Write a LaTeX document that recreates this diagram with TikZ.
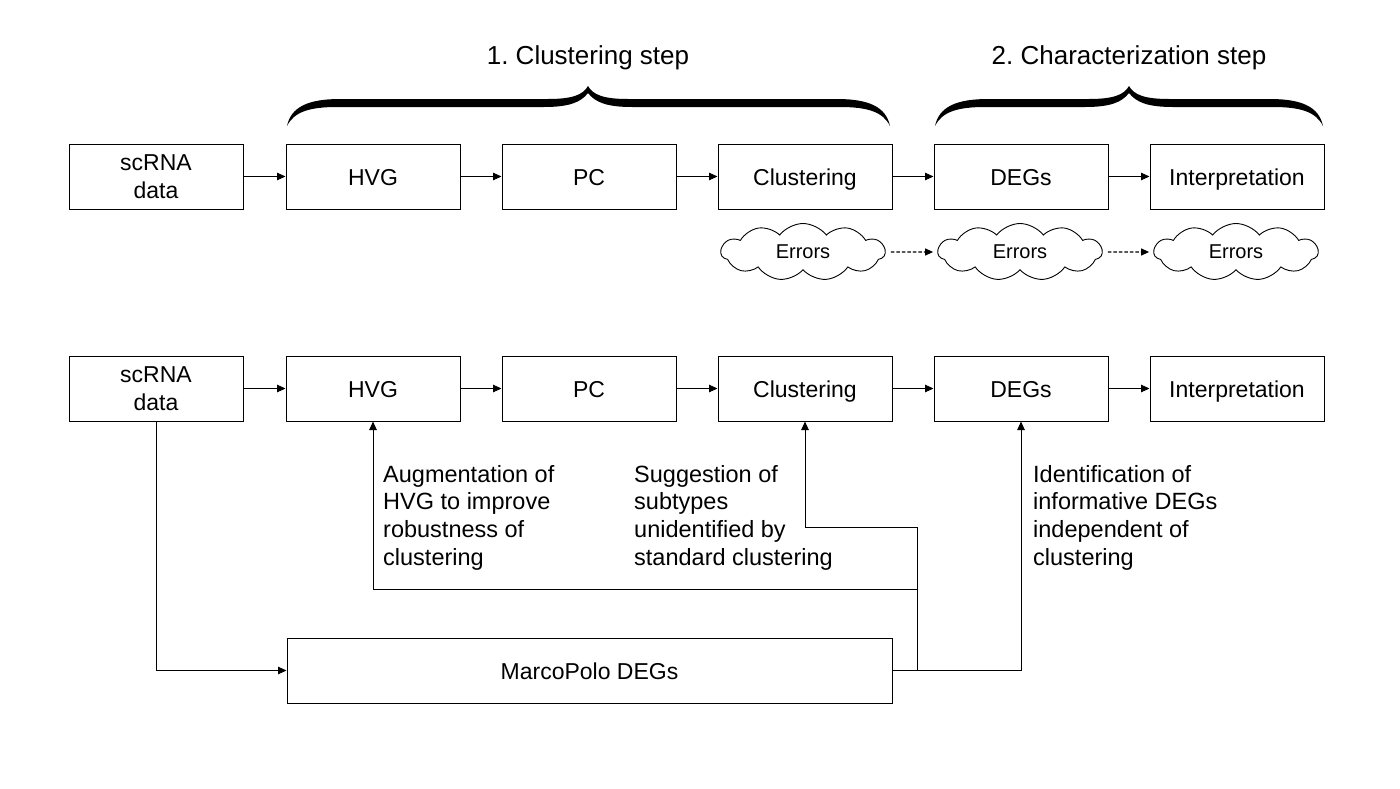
\documentclass[tikz,border=0pt]{standalone}
\usepackage{fontspec}
\setmainfont{Liberation Sans}
\usetikzlibrary{arrows.meta,shapes.symbols}
\begin{document}
\frenchspacing
\begin{tikzpicture}[x=1pt,y=-1pt,
  box/.style={draw,line width=1pt,minimum width=174pt,minimum height=65pt,inner sep=0pt,align=center,font=\fontsize{23}{27.7}\selectfont},
  one/.style={text height=21.5pt,text depth=4.5pt},
  arr/.style={line width=0.95pt,-{Triangle[length=8.5pt,width=7.5pt]}},
  dasharr/.style={line width=1.15pt,dash pattern=on 3.5pt off 2pt,-{Triangle[length=8pt,width=7pt]}},
  errcloud/.style={draw,cloud,cloud puffs=11,cloud puff arc=105,cloud ignores aspect,minimum width=164pt,minimum height=57pt,line width=0.9pt,inner sep=0pt,font=\fontsize{20}{22}\selectfont},
  lbl/.style={anchor=north west,inner sep=0pt,align=left,font=\fontsize{23.5}{27.7}\selectfont},
  ttl/.style={anchor=base,inner sep=0pt,font=\fontsize{26}{30}\selectfont}]
\useasboundingbox[fill=white] (0,0) rectangle (1400,788);

% titles
\node[ttl] (t1) at (588,64) {1. Clustering step};
\node[ttl] (t2) at (1129,64) {2. Characterization step};

% braces
\fill (287,126) .. controls (291,107) and (308,99) .. (340,99) -- (548,99) .. controls (572,99) and (583,95) .. (588,86) .. controls (593,95) and (604,99) .. (628,99) -- (837,99) .. controls (869,99) and (886,107) .. (890,126) .. controls (883,112) and (868,107) .. (840,107) -- (632,107) .. controls (606,107) and (595,102) .. (588,93) .. controls (581,102) and (570,107) .. (544,107) -- (337,107) .. controls (309,107) and (294,112) .. (287,126) -- cycle;
\fill (935,126) .. controls (939,107) and (956,99) .. (988,99) -- (1089,99) .. controls (1113,99) and (1124,95) .. (1129,86) .. controls (1134,95) and (1145,99) .. (1169,99) -- (1270,99) .. controls (1302,99) and (1319,107) .. (1323,126) .. controls (1316,112) and (1301,107) .. (1273,107) -- (1173,107) .. controls (1147,107) and (1136,102) .. (1129,93) .. controls (1122,102) and (1111,107) .. (1085,107) -- (985,107) .. controls (957,107) and (942,112) .. (935,126) -- cycle;

% row 1
\node[box] (s1) at (156,176.5) {scRNA\\data};
\node[box,one] (h1) at (373,176.5) {HVG};
\node[box,one] (p1) at (589,176.5) {PC};
\node[box,one] (c1) at (805,176.5) {Clustering};
\node[box,one] (d1) at (1021,176.5) {DEGs};
\node[box,one] (i1) at (1237,176.5) {Interpretation};
\draw[arr] (s1) -- (h1);
\draw[arr] (h1) -- (p1);
\draw[arr] (p1) -- (c1);
\draw[arr] (c1) -- (d1);
\draw[arr] (d1) -- (i1);

% clouds
\node[errcloud] (e1) at (803,252) {Errors};
\node[errcloud] (e2) at (1020,252) {Errors};
\node[errcloud] (e3) at (1236,252) {Errors};
\draw[dasharr,shorten <=5pt,shorten >=4pt] (e1) -- (e2);
\draw[dasharr,shorten <=5pt,shorten >=4pt] (e2) -- (e3);

% row 2
\node[box] (s2) at (156,388.5) {scRNA\\data};
\node[box,one] (h2) at (373,388.5) {HVG};
\node[box,one] (p2) at (589,388.5) {PC};
\node[box,one] (c2) at (805,388.5) {Clustering};
\node[box,one] (d2) at (1021,388.5) {DEGs};
\node[box,one] (i2) at (1237,388.5) {Interpretation};
\draw[arr] (s2) -- (h2);
\draw[arr] (h2) -- (p2);
\draw[arr] (p2) -- (c2);
\draw[arr] (c2) -- (d2);
\draw[arr] (d2) -- (i2);

% MarcoPolo
\node[box,one,minimum width=605pt] (mp) at (589.5,670.5) {MarcoPolo DEGs};
\draw[arr] (s2.south) |- (mp.west);
\coordinate (j) at (917,670.5);
\coordinate (k) at (917,527);
\coordinate (m) at (917,589);
\draw[arr] (mp.east) -| (d2.south);
\draw[arr] (j) -- (k) -| (c2.south);
\draw[arr] (m) -| (h2.south);

% labels
\node[lbl] (la) at (383,465) {Augmentation of\\HVG to improve\\robustness of\\clustering};
\node[lbl] (lb) at (634,465) {Suggestion of\\subtypes\\unidentified by\\standard clustering};
\node[lbl] (lc) at (1033,465) {Identification of\\informative DEGs\\independent of\\clustering};
\end{tikzpicture}
\end{document}
